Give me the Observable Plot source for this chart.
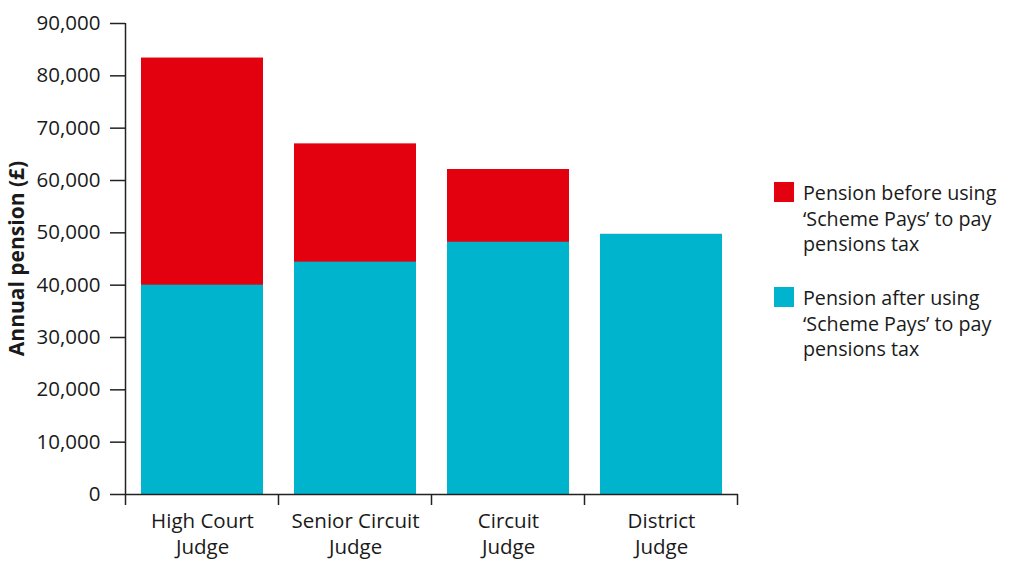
<!DOCTYPE html>
<html>
<head>
<meta charset="utf-8">
<script src="https://cdn.jsdelivr.net/npm/d3@7"></script>
<script src="https://cdn.jsdelivr.net/npm/@observablehq/plot@0.6"></script>
<style>
  body { margin: 0; background: #fff; }
  #wrap { position: relative; width: 1009px; height: 563px; font-family: "Open Sans", sans-serif; color: #1a1a1a; }
  .leg { position: absolute; left: 774px; display: flex; align-items: flex-start; }
  .sw { width: 20px; height: 20px; flex: none; }
  .lt { position: absolute; left: 29px; width: 230px; font-size: 19.7px; line-height: 25.7px; white-space: nowrap; }
</style>
</head>
<body>
<div id="wrap"></div>
<script>
const categories = ["High Court Judge", "Senior Circuit Judge", "Circuit Judge", "District Judge"];
const tickLabels = ["High Court\nJudge", "Senior Circuit\nJudge", "Circuit\nJudge", "District\nJudge"];
const beforeValues = [83400, 67000, 62100, 49700];
const afterValues = [40000, 44400, 48200, 49700];
const seriesNames = ["Pension before using\n‘Scheme Pays’ to pay\npensions tax", "Pension after using\n‘Scheme Pays’ to pay\npensions tax"];
const seriesColors = ["#e3000f", "#00b4ce"];
const yTicks = [0, 10000, 20000, 30000, 40000, 50000, 60000, 70000, 80000, 90000];
const yLabel = "Annual pension (£)";

const beforeData = categories.map((c, i) => ({cat: c, value: beforeValues[i]}));
const afterData = categories.map((c, i) => ({cat: c, value: afterValues[i]}));
const labelOf = new Map(categories.map((c, i) => [c, tickLabels[i]]));

const plot = Plot.plot({
  width: 1009,
  height: 563,
  marginLeft: 125,
  marginRight: 271,
  marginTop: 23,
  marginBottom: 69,
  style: {fontFamily: "Open Sans, sans-serif", fontSize: "20px", color: "#1a1a1a", background: "#fff"},
  x: {domain: categories, paddingInner: 0.2, paddingOuter: 0.1},
  y: {domain: [0, 90000]},
  marks: [
    Plot.barY(beforeData, {x: "cat", y: "value", fill: seriesColors[0]}),
    Plot.barY(afterData, {x: "cat", y: "value", fill: seriesColors[1]}),
    Plot.axisY({ticks: yTicks, tickFormat: d => d3.format(",")(d), tickSize: 15, tickPadding: 10, label: null, stroke: "#222", strokeOpacity: 1, strokeWidth: 1.5, fontSize: 20.5}),
    Plot.axisX({tickSize: 0, tickPadding: 15, tickFormat: d => labelOf.get(d), label: null, lineHeight: 1.28, fontSize: 20.5}),
    Plot.ruleY([0], {stroke: "#222", strokeWidth: 1.5})
  ]
});

const xs = plot.scale("x");
const ys = plot.scale("y");
const step = xs.step, gap = step - xs.bandwidth;
const svg = d3.select(plot);
const bounds = categories.map(c => xs.apply(c) - gap / 2);
bounds.push(xs.apply(categories[categories.length - 1]) + xs.bandwidth + gap / 2);
const y0 = ys.apply(0);
svg.append("g").selectAll("line").data(bounds).join("line")
  .attr("x1", d => d).attr("x2", d => d)
  .attr("y1", y0).attr("y2", y0 + 11)
  .attr("stroke", "#222").attr("stroke-width", 1.5);
svg.append("line")
  .attr("x1", bounds[0]).attr("x2", bounds[0])
  .attr("y1", ys.apply(0)).attr("y2", ys.apply(90000))
  .attr("stroke", "#222").attr("stroke-width", 1.5);

svg.append("text")
  .attr("transform", `translate(24,${(ys.apply(0) + ys.apply(90000)) / 2}) rotate(-90)`)
  .attr("text-anchor", "middle")
  .attr("font-weight", "bold")
  .attr("font-size", 21)
  .attr("fill", "#1a1a1a")
  .text(yLabel);

const wrap = document.getElementById("wrap");
wrap.appendChild(plot);

const legTops = [182, 287];
seriesNames.forEach((name, i) => {
  const d = document.createElement("div");
  d.className = "leg";
  d.style.top = legTops[i] + "px";
  const sw = document.createElement("div");
  sw.className = "sw";
  sw.style.background = seriesColors[i];
  const t = document.createElement("div");
  t.className = "lt";
  t.style.top = "-2px";
  t.innerHTML = name.split("\n").join("<br>");
  d.appendChild(sw);
  d.appendChild(t);
  wrap.appendChild(d);
});
plot.style.position = "absolute";
plot.style.left = "0";
plot.style.top = "0";
</script>
</body>
</html>
